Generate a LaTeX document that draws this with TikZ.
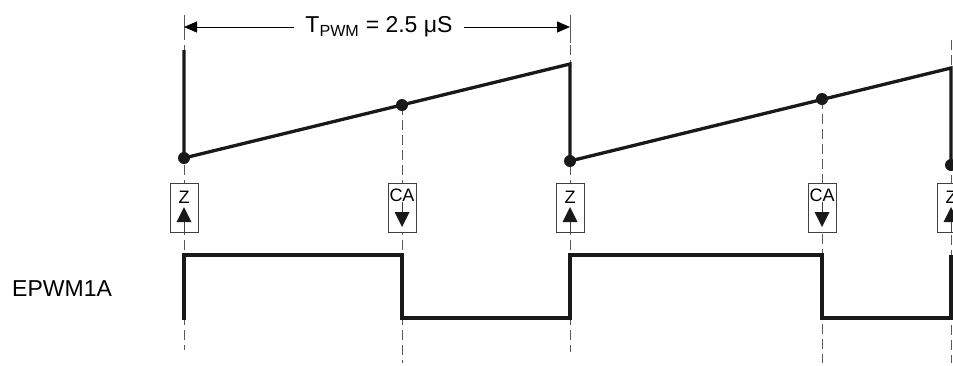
\documentclass[tikz,border=0pt]{standalone}
\usepackage{fontspec}
\setmainfont{Liberation Sans}
\usetikzlibrary{arrows.meta}
\begin{document}
\begin{tikzpicture}[x=1pt,y=-1pt,
  wave/.style={line width=3.3pt, line join=miter, line cap=butt, black!90},
  guide/.style={black!65, line width=1pt, dash pattern=on 10pt off 5pt},
  tick/.style={black!65, line width=1pt},
  dimline/.style={black, line width=1pt},
  evbox/.style={draw=black!75, line width=0.8pt, fill=white, minimum width=28pt, minimum height=49pt, inner sep=0pt},
  evtext/.style={font=\fontsize{18}{20}\selectfont, inner sep=0pt},
  dot/.style={circle, fill=black!90, inner sep=0pt, minimum size=12pt},
  lbl/.style={font=\fontsize{23}{27}\selectfont}]
\useasboundingbox (0,0) rectangle (953,365);
\clip (0,0) rectangle (953,365);

% guide lines
\coordinate (g1t) at (184,15);  \coordinate (g1b) at (184,350);
\coordinate (g2t) at (402,105); \coordinate (g2b) at (402,363);
\coordinate (g3t) at (570,15);  \coordinate (g3b) at (570,352);
\coordinate (g4t) at (822,99);  \coordinate (g4b) at (822,363);
\coordinate (g5t) at (951,40);  \coordinate (g5b) at (951,363);
\draw[guide] (g1t) -- (g1b);
\draw[guide] (g2t) -- (g2b);
\draw[guide] (g3t) -- (g3b);
\draw[guide] (g4t) -- (g4b);
\draw[guide] (g5t) -- (g5b);

% dimension
\coordinate (k1a) at (184,17); \coordinate (k1b) at (184,40);
\coordinate (k2a) at (570,20); \coordinate (k2b) at (570,43);
\draw[tick] (k1a) -- (k1b);
\draw[tick] (k2a) -- (k2b);
\node[lbl, inner xsep=11pt] (T) at (379,27) {T\textsubscript{PWM} = 2.5 μS};
\coordinate (d1) at (184,27); \coordinate (d2) at (570,27);
\draw[dimline, -{Triangle[length=13pt,width=11pt]}] (T.west) -- (d1);
\draw[dimline, -{Triangle[length=13pt,width=11pt]}] (T.east) -- (d2);

% sawtooth
\coordinate (s0) at (184,50);
\node[dot] (p1) at (184,158) {};
\node[dot] (p2) at (402,105) {};
\coordinate (s1) at (570,64);
\node[dot] (p3) at (570,161) {};
\node[dot] (p4) at (822,99) {};
\coordinate (s2) at (951,68);
\node[dot] (p5) at (951,165) {};
\draw[wave] (s0) -- (p1.center) -- (s1) -- (p3.center) -- (s2) -- (p5.center);

% event boxes
\node[evbox] (b1) at (184,208) {};
\node[evtext] (t1) at (184,197) {Z};
\fill[black!90] (176.5,222) -- (191.5,222) -- (184,207) -- cycle;
\draw[black!75, line width=0.8pt] (184,222) -- (b1.south);

\node[evbox] (b2) at (402,208) {};
\node[evtext] (t2) at (402,195) {CA};
\fill[black!90] (394.5,212) -- (409.5,212) -- (402,227) -- cycle;
\draw[black!75, line width=0.8pt] (t2.south) -- (402,212);

\node[evbox] (b3) at (570,208) {};
\node[evtext] (t3) at (570,197) {Z};
\fill[black!90] (562.5,222) -- (577.5,222) -- (570,207) -- cycle;
\draw[black!75, line width=0.8pt] (570,222) -- (b3.south);

\node[evbox] (b4) at (822,208) {};
\node[evtext] (t4) at (822,195) {CA};
\fill[black!90] (814.5,212) -- (829.5,212) -- (822,227) -- cycle;
\draw[black!75, line width=0.8pt] (t4.south) -- (822,212);

\node[evbox] (b5) at (951,208) {};
\node[evtext] (t5) at (951,197) {Z};
\fill[black!90] (943.5,222) -- (958.5,222) -- (951,207) -- cycle;
\draw[black!75, line width=0.8pt] (951,222) -- (b5.south);

% EPWM1A waveform
\node[lbl, anchor=west, inner sep=0pt] (e) at (12,289) {EPWM1A};
\coordinate (w0) at (184,320);
\coordinate (w1) at (184,255);
\coordinate (w2) at (402,255);
\coordinate (w3) at (402,318);
\coordinate (w4) at (570,318);
\coordinate (w5) at (570,255);
\coordinate (w6) at (822,255);
\coordinate (w7) at (822,318);
\coordinate (w8) at (951,318);
\coordinate (w9) at (951,255);
\draw[wave] (w0) -- (w1) -- (w2) -- (w3) -- (w4) -- (w5) -- (w6) -- (w7) -- (w8) -- (w9);
\end{tikzpicture}
\end{document}
